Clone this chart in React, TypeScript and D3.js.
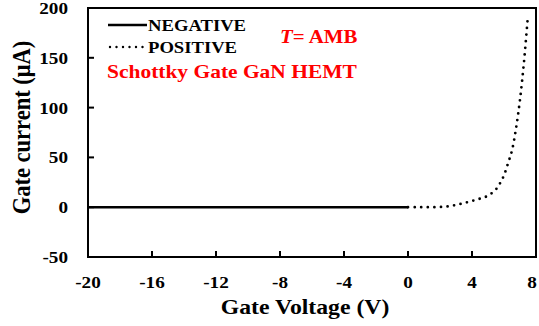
import * as d3 from 'd3';
import React, { useEffect, useRef } from 'react';

// gate sweep, negative side (flat at zero)
const negVoltage = [-20, -16, -12, -8, -4, 0];
const negCurrent = [0, 0, 0, 0, 0, 0];

// positive side
const posVoltage = [0, 0.5, 1, 1.5, 2, 2.5, 3, 3.5, 4, 4.5, 5, 5.5, 5.75, 6, 6.25, 6.5, 6.75, 7, 7.25, 7.5];
const posCurrent = [0, 0, 0, 0, 0.2, 0.8, 2.3, 4.2, 6.3, 8.6, 11.5, 18, 24, 32, 44, 57, 79, 108, 146, 193];

const xTicks = [-20, -16, -12, -8, -4, 0, 4, 8];
const yTicks = [-50, 0, 50, 100, 150, 200];

const W = 539;
const H = 326;
const FONT = "'Liberation Serif', 'Times New Roman', 'DejaVu Serif', serif";
const SX = 1.13; // the original figure's text is stretched sideways

export default function App() {
    const ref = useRef<SVGSVGElement>(null);

    useEffect(() => {
        const svg = d3.select(ref.current);
        svg.selectAll('*').remove();

        const x = d3.scaleLinear().domain([-20, 8]).range([88, 536]);
        const y = d3.scaleLinear().domain([-50, 200]).range([257, 8]);

        const g = svg.append('g')
            .style('font-family', FONT)
            .style('font-weight', 'bold');

        const label = (px: number, py: number, str: string, size: number, anchor = 'start') =>
            g.append('text')
                .attr('transform', `translate(${px},${py}) scale(${SX},1)`)
                .attr('text-anchor', anchor)
                .style('font-size', size + 'px')
                .text(str);

        const line = d3.line<[number, number]>()
            .x(d => x(d[0]))
            .y(d => y(d[1]));

        // negative sweep: solid
        g.append('path')
            .datum(negVoltage.map((v, i) => [v, negCurrent[i]] as [number, number]))
            .attr('d', line)
            .attr('fill', 'none')
            .attr('stroke', '#000')
            .attr('stroke-width', 2.5);

        // positive sweep: round dots
        g.append('path')
            .datum(posVoltage.map((v, i) => [v, posCurrent[i]] as [number, number]))
            .attr('d', line.curve(d3.curveCatmullRom))
            .attr('fill', 'none')
            .attr('stroke', '#000')
            .attr('stroke-width', 2.8)
            .attr('stroke-linecap', 'round')
            .attr('stroke-dasharray', '0 6.6');

        // frame
        g.append('rect')
            .attr('x', x(-20)).attr('y', y(200))
            .attr('width', x(8) - x(-20)).attr('height', y(-50) - y(200))
            .attr('fill', 'none').attr('stroke', '#000').attr('stroke-width', 2);

        // inward ticks
        g.selectAll('.xt').data(xTicks.slice(1, -1)).enter().append('line')
            .attr('x1', d => x(d)).attr('x2', d => x(d))
            .attr('y1', y(-50)).attr('y2', y(-50) - 6)
            .attr('stroke', '#000').attr('stroke-width', 2);
        g.selectAll('.yt').data(yTicks.slice(1, -1)).enter().append('line')
            .attr('x1', x(-20)).attr('x2', x(-20) + 6)
            .attr('y1', d => y(d)).attr('y2', d => y(d))
            .attr('stroke', '#000').attr('stroke-width', 2);

        // tick labels (last one nudged so it stays inside the page)
        g.selectAll('.xl').data(xTicks).enter().append('text')
            .attr('transform', d => `translate(${Math.min(x(d), W - 7)},288) scale(${SX},1)`)
            .attr('text-anchor', 'middle')
            .style('font-size', '17px')
            .text(d => d);
        g.selectAll('.yl').data(yTicks).enter().append('text')
            .attr('transform', d => `translate(68,${y(d) + 6}) scale(${SX},1)`)
            .attr('text-anchor', 'end')
            .style('font-size', '17px')
            .text(d => d);

        // axis titles
        label(305, 314, 'Gate Voltage (V)', 21, 'middle');
        g.append('text')
            .attr('transform', `translate(30,${(y(200) + y(-50)) / 2 - 5}) scale(${SX},1) rotate(-90)`)
            .attr('text-anchor', 'middle')
            .style('font-size', '22.5px')
            .text('Gate current (μA)');

        // legend
        g.append('line').attr('x1', 108).attr('x2', 147).attr('y1', 25).attr('y2', 25)
            .attr('stroke', '#000').attr('stroke-width', 2.5);
        g.append('line').attr('x1', 110).attr('x2', 146).attr('y1', 47).attr('y2', 47)
            .attr('stroke', '#000').attr('stroke-width', 2.4)
            .attr('stroke-linecap', 'round').attr('stroke-dasharray', '0 6.5');
        label(148, 31, 'NEGATIVE', 16.5);
        label(148, 53, 'POSITIVE', 16.5);

        // annotations
        const t = label(280, 43, '', 18.5).attr('fill', '#ff0000');
        t.append('tspan').style('font-style', 'italic').text('T');
        t.append('tspan').text('= AMB');
        label(107, 78, 'Schottky Gate GaN HEMT', 19).attr('fill', '#ff0000');
    }, []);

    return (
        <svg ref={ref} width={W} height={H}
            style={{ position: 'absolute', left: 0, top: 0, background: '#fff' }} />
    );
}
